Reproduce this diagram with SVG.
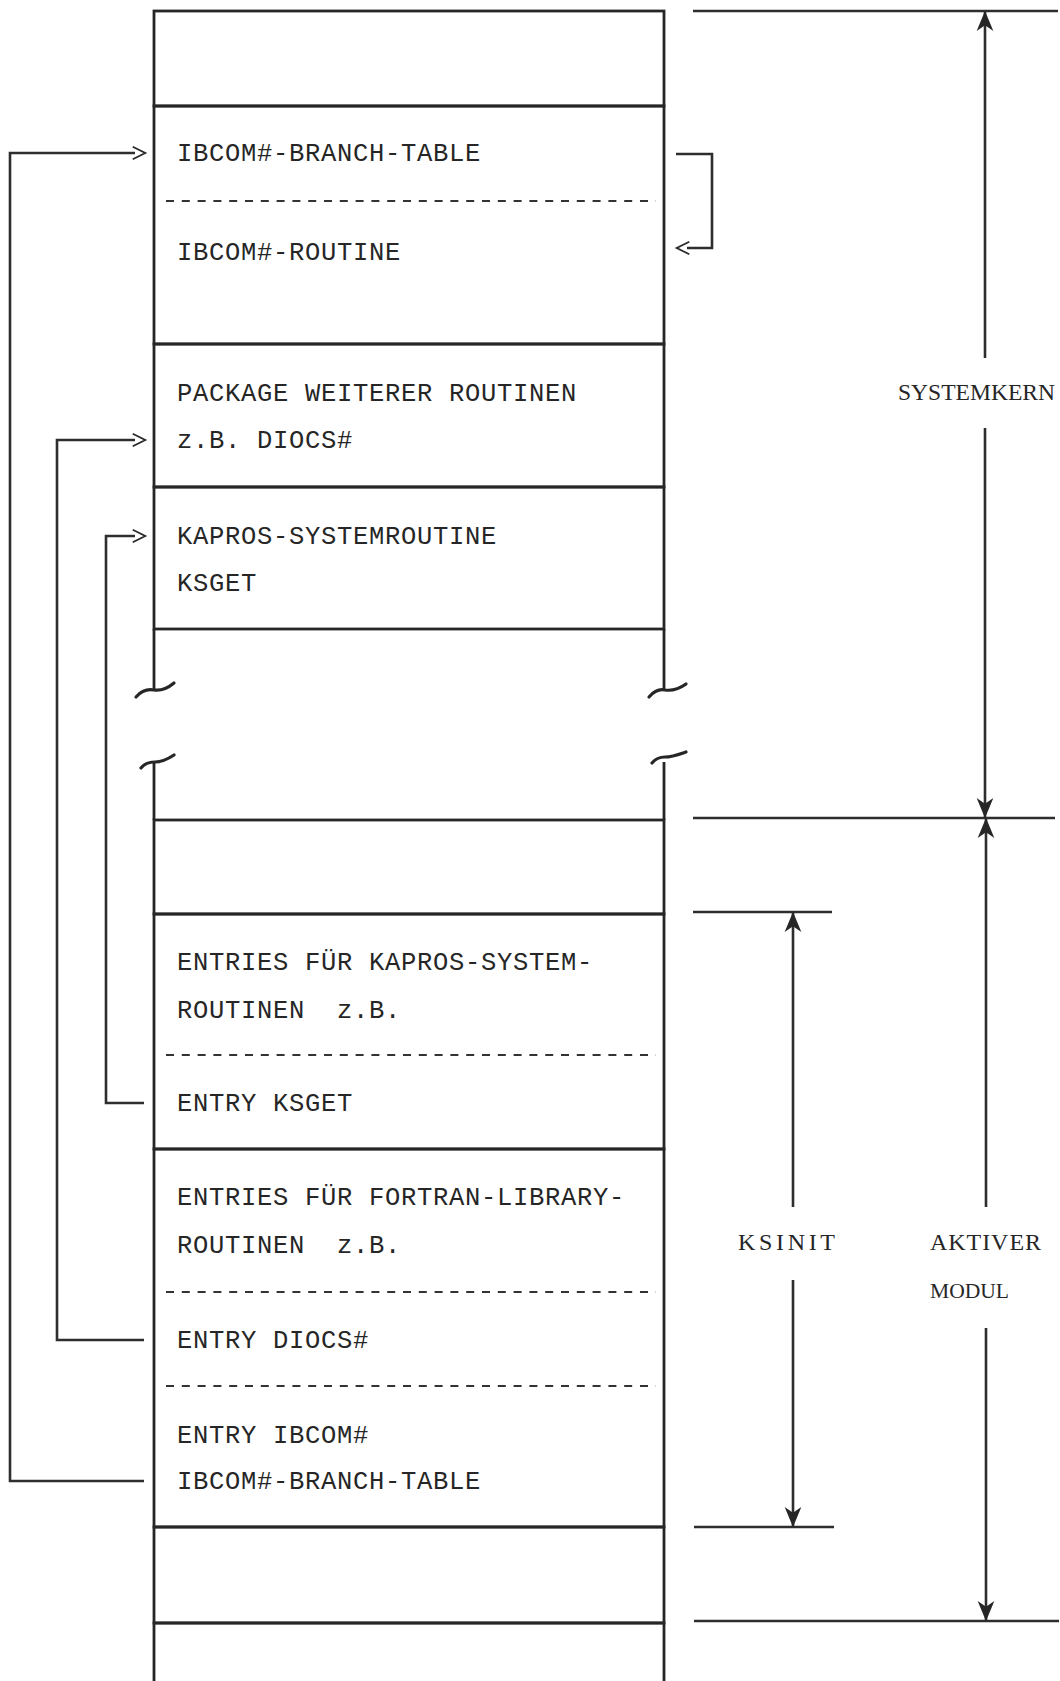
<svg xmlns="http://www.w3.org/2000/svg" width="1060" height="1681" viewBox="0 0 1060 1681">
<style>
.bg{fill:#ffffff}
.box{fill:none;stroke:#262626;stroke-width:2.8}
.wall{fill:none;stroke:#262626;stroke-width:2.8}
.brk{fill:none;stroke:#262626;stroke-width:3.2;stroke-linecap:round}
.dash{fill:none;stroke:#333;stroke-width:2;stroke-dasharray:8 7.8}
.con{fill:none;stroke:#2e2e2e;stroke-width:2.6}
.dim{fill:none;stroke:#2e2e2e;stroke-width:2.6}
.tw{font-family:"Liberation Mono","DejaVu Sans Mono",monospace;font-size:25.5px;letter-spacing:0.7px;fill:#262626}
.lb{font-family:"Liberation Serif","DejaVu Serif",serif;font-size:24px;fill:#262626}
</style>
<defs>
<marker id="chev" markerUnits="userSpaceOnUse" markerWidth="16" markerHeight="16" viewBox="0 0 14 14" refX="3" refY="7" orient="auto">
<path d="M1,1.5 L12,7 L1,12.5" fill="none" stroke="#2a2a2a" stroke-width="1.6"/>
</marker>
<marker id="arr" markerUnits="userSpaceOnUse" markerWidth="20" markerHeight="18" viewBox="0 0 18 16" refX="17" refY="8" orient="auto">
<path d="M0,0.5 L18,8 L0,15.5 L5,8 Z" fill="#262626"/>
</marker>
</defs>
<rect class="bg" x="0" y="0" width="1060" height="1681"/>

<g id="sec-top"><rect class="box" x="154" y="11" width="510" height="95"/></g>

<g id="sec-ibcom">
<rect class="box" x="154" y="106" width="510" height="238"/>
<text class="tw" x="177" y="161">IBCOM#-BRANCH-TABLE</text>
<line class="dash" x1="166" y1="201" x2="656" y2="201"/>
<text class="tw" x="177" y="260">IBCOM#-ROUTINE</text>
</g>

<g id="sec-package">
<rect class="box" x="154" y="344" width="510" height="143"/>
<text class="tw" x="177" y="401">PACKAGE WEITERER ROUTINEN</text>
<text class="tw" x="177" y="448">z.B. DIOCS#</text>
</g>

<g id="sec-kapros">
<rect class="box" x="154" y="487" width="510" height="142"/>
<text class="tw" x="177" y="544">KAPROS-SYSTEMROUTINE</text>
<text class="tw" x="177" y="591">KSGET</text>
</g>

<g id="sec-break">
<path class="wall" d="M154,629 V689 M664,629 V689 M154,762 V820 M664,762 V820"/>
<path class="brk" d="M136,697 C142,690 148,689 154,690 C161,691 168,688 174,683"/>
<path class="brk" d="M649,697 C655,690 660,689 665,690 C672,691 679,689 686,684"/>
<path class="brk" d="M141,768 C145,763 150,762 155,762 C162,762 168,759 174,755"/>
<path class="brk" d="M652,763 C656,758 660,757 665,757 C672,757 680,754 686,752"/>
</g>

<g id="sec-empty2"><rect class="box" x="154" y="820" width="510" height="94"/></g>

<g id="sec-entries-kapros">
<rect class="box" x="154" y="914" width="510" height="235"/>
<text class="tw" x="177" y="970">ENTRIES FÜR KAPROS-SYSTEM-</text>
<text class="tw" x="177" y="1018" xml:space="preserve">ROUTINEN  z.B.</text>
<line class="dash" x1="166" y1="1055" x2="656" y2="1055"/>
<text class="tw" x="177" y="1111">ENTRY KSGET</text>
</g>

<g id="sec-entries-fortran">
<rect class="box" x="154" y="1149" width="510" height="378"/>
<text class="tw" x="177" y="1205">ENTRIES FÜR FORTRAN-LIBRARY-</text>
<text class="tw" x="177" y="1253" xml:space="preserve">ROUTINEN  z.B.</text>
<line class="dash" x1="166" y1="1292" x2="656" y2="1292"/>
<text class="tw" x="177" y="1348">ENTRY DIOCS#</text>
<line class="dash" x1="166" y1="1386" x2="656" y2="1386"/>
<text class="tw" x="177" y="1443">ENTRY IBCOM#</text>
<text class="tw" x="177" y="1489">IBCOM#-BRANCH-TABLE</text>
</g>

<g id="sec-empty3"><rect class="box" x="154" y="1527" width="510" height="96"/></g>

<g id="sec-bottom"><rect class="box" x="154" y="1623" width="510" height="80"/></g>

<g id="connectors">
<path class="con" d="M144,1481 H10 V153 H135" marker-end="url(#chev)"/>
<path class="con" d="M144,1340 H57 V440 H135" marker-end="url(#chev)"/>
<path class="con" d="M144,1103 H106 V536 H135" marker-end="url(#chev)"/>
<path class="con" d="M676,154 H712 V248 H687" marker-end="url(#chev)"/>
</g>

<g id="dimensions">
<path class="dim" d="M693,11 H1058 M693,818 H1055 M693,912 H832 M694,1527 H834 M694,1621 H1059"/>
<path class="dim" d="M985,358 V12" marker-end="url(#arr)"/>
<path class="dim" d="M985,428 V817" marker-end="url(#arr)"/>
<path class="dim" d="M986,1207 V819" marker-end="url(#arr)"/>
<path class="dim" d="M986,1328 V1620" marker-end="url(#arr)"/>
<path class="dim" d="M793,1207 V913" marker-end="url(#arr)"/>
<path class="dim" d="M793,1280 V1526" marker-end="url(#arr)"/>
</g>

<g id="label-systemkern"><text class="lb" x="898" y="400" textLength="157" lengthAdjust="spacingAndGlyphs">SYSTEMKERN</text></g>
<g id="label-ksinit"><text class="lb" x="738" y="1250" textLength="97" lengthAdjust="spacing">KSINIT</text></g>
<g id="label-aktiver-modul">
<text class="lb" x="930" y="1250" textLength="111" lengthAdjust="spacing">AKTIVER</text>
<text class="lb" x="930" y="1298" style="font-size:22px" textLength="79" lengthAdjust="spacingAndGlyphs">MODUL</text>
</g>
</svg>
